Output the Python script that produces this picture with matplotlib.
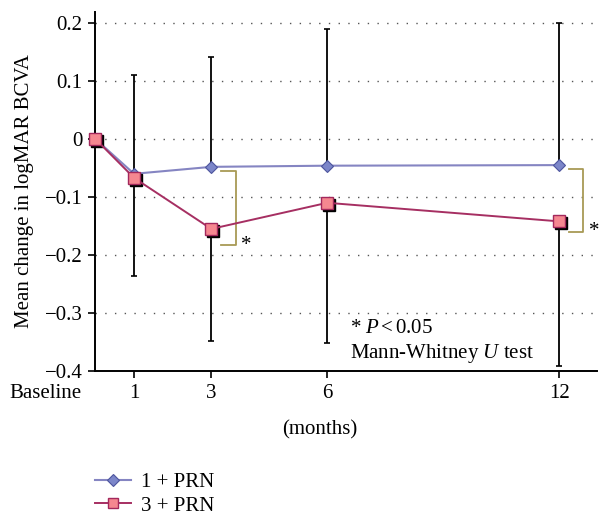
import matplotlib
matplotlib.use('Agg')
from matplotlib import pyplot as plt
from matplotlib import transforms
from matplotlib.lines import Line2D
import numpy as np

plt.rcParams['font.family'] = ['Liberation Serif', 'DejaVu Serif']
plt.rcParams['mathtext.fontset'] = 'custom'
plt.rcParams['mathtext.rm'] = 'Liberation Serif'
plt.rcParams['mathtext.it'] = 'Liberation Serif:italic'

# Data
months = [0, 1, 3, 6, 12]
month_labels = ['1', '3', '6', '12']
prn1 = [0.0, -0.060, -0.048, -0.046, -0.045]
prn3 = [0.0, -0.067, -0.155, -0.110, -0.142]
sd1 = [0.0, 0.170, 0.190, 0.235, 0.245]   # upper bars (1 + PRN)
sd3 = [0.0, 0.170, 0.194, 0.242, 0.249]   # lower bars (3 + PRN)
yticks = [-0.4, -0.3, -0.2, -0.1, 0, 0.1, 0.2]
ytick_labels = ['\u22120.4', '\u22120.3', '\u22120.2', '\u22120.1', '0', '0.1', '0.2']
sig_months = [3, 12]
bracket_top = [-0.055, -0.052]
bracket_bot = [-0.183, -0.160]

blue_line = '#8585c2'
blue_face = '#7c86c9'
blue_edge = '#4d559e'
red_line = '#a62f62'
red_face = '#f58790'
red_edge = '#a3285c'
bracket_col = '#a89a55'
fs = 15

fig = plt.figure(figsize=(6.04, 5.15), dpi=100)
ax = fig.add_axes([95 / 604, 1 - 371 / 515, 502 / 604, 359 / 515])

x = np.array(months)
y1 = np.array(prn1)
y3 = np.array(prn3)

# error bars: up for 1 + PRN, down for 3 + PRN
ax.errorbar(x[1:], y1[1:], yerr=[np.zeros(4), np.array(sd1[1:])], fmt='none',
            ecolor='black', elinewidth=1.3, capsize=2, capthick=1.2, zorder=2)
ax.errorbar(x[1:], y3[1:], yerr=[np.array(sd3[1:]), np.zeros(4)], fmt='none',
            ecolor='black', elinewidth=1.3, capsize=2, capthick=1.2, zorder=2)

ax.plot(x, y1, color=blue_line, lw=1.5, marker='D', ms=6.5, mfc=blue_face,
        mec=blue_edge, mew=0.8, zorder=3, clip_on=False)
# shadow of red squares
shadow = transforms.offset_copy(ax.transData, fig=fig, x=2, y=-2, units='dots')
ax.plot(x, y3, ls='none', marker='s', ms=8, mfc='black', mec='black',
        transform=shadow, zorder=4, clip_on=False)
ax.plot(x, y3, color=red_line, lw=1.4, marker='s', ms=8, mfc=red_face,
        mec=red_edge, mew=1.0, zorder=5, clip_on=False)

# significance brackets
for m, t, b in zip(sig_months, bracket_top, bracket_bot):
    x0 = m + 0.25
    x1 = x0 + 0.38
    ax.plot([x0, x1, x1, x0], [t, t, b, b], color=bracket_col, lw=1.3,
            zorder=3, clip_on=False)
    ax.text(x1 + 0.15, b, '*', fontsize=fs, ha='left', va='center', clip_on=False)

ax.set_xlim(-0.01, 12.98)
ax.set_ylim(-0.4, 0.219)
ax.set_yticks(yticks)
ax.set_yticklabels(ytick_labels, fontsize=fs)
ax.set_xticks(months[1:])
ax.set_xticklabels(month_labels, fontsize=fs)
ax.tick_params(axis='both', direction='out', length=5, width=1.2, pad=4)
ax.spines['top'].set_visible(False)
ax.spines['right'].set_visible(False)
ax.spines['left'].set_linewidth(1.4)
ax.spines['bottom'].set_linewidth(1.4)
ax.grid(axis='y', linestyle=(0, (1, 6)), color='#555555', lw=1.0)
ax.set_axisbelow(True)

ax.text(6.59, -0.327, r'* $P$$\,$<$\,$0.05', fontsize=fs, ha='left', va='center')
ax.text(6.59, -0.370, r'Mann-Whitney $U$ test', fontsize=fs, ha='left', va='center')

fig.text(45 / 604, 1 - 393 / 515, 'Baseline', fontsize=fs, ha='center', va='center')
fig.text(320 / 604, 1 - 430 / 515, '(months)', fontsize=fs, ha='center', va='center')
fig.text(25 / 604, 1 - 191 / 515, 'Mean change in logMAR BCVA', fontsize=fs,
         rotation=90, ha='center', va='center')

handles = [Line2D([], [], color=blue_line, lw=1.5, marker='D', ms=6.5, mfc=blue_face,
                  mec=blue_edge, mew=0.8),
           Line2D([], [], color=red_line, lw=1.4, marker='s', ms=7, mfc=red_face,
                  mec=red_edge, mew=1.0)]
fig.legend(handles, ['1 + PRN', '3 + PRN'], loc='upper left',
           bbox_to_anchor=(85 / 604, 1 - 462 / 515), frameon=False, fontsize=fs,
           handlelength=1.7, handletextpad=0.5, labelspacing=0.2, borderpad=0)

fig.savefig('out.png', dpi=100)
